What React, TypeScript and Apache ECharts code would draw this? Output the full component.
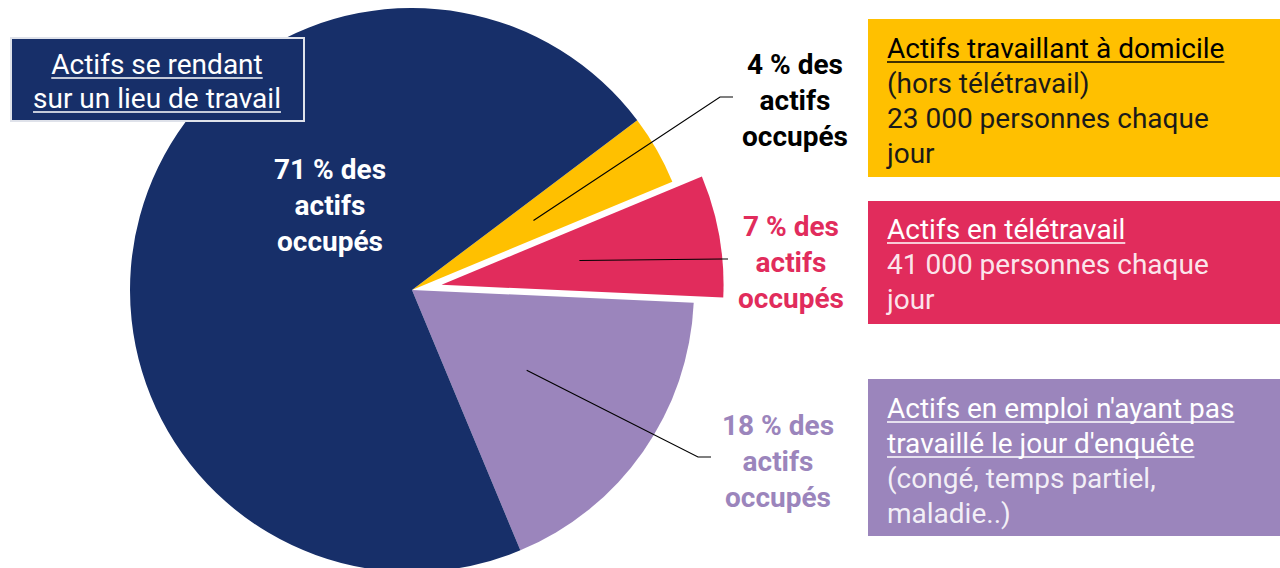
import React, { useEffect, useRef } from 'react';
import * as echarts from 'echarts';

// ---- data ----
const categories = [
  'Actifs travaillant à domicile',
  'Actifs en télétravail',
  "Actifs en emploi n'ayant pas travaillé le jour d'enquête",
  'Actifs se rendant sur un lieu de travail',
];
const shares = [4, 7, 18, 71];
const sliceColors = ['#ffc000', '#e12c5c', '#9b85bc', '#172f69'];
const labelColors = ['#000000', '#e12c5c', '#9b85bc', '#ffffff'];
const explodedIndex = 1;
const labelTexts = shares.map((v) => `${v} % des\nactifs\noccupés`);

const boxTitles = [
  ['Actifs travaillant à domicile'],
  ['Actifs en télétravail'],
  ["Actifs en emploi n'ayant pas", "travaillé le jour d'enquête"],
  ['Actifs se rendant', 'sur un lieu de travail'],
];
const boxSubs = [
  ['(hors télétravail)', '23 000 personnes chaque', 'jour'],
  ['41 000 personnes chaque', 'jour'],
  ['(congé, temps partiel,', 'maladie..)'],
  [],
];

// ---- layout ----
const CENTER = [412, 290];
const RADIUS = 282;
const INNER_R = 140;
const START_ANGLE = 37;
const OFFSET = 30;
const labelPos = [
  [795, 100],
  [791, 262],
  [778, 461],
  [330, 205],
];
const lineEnds: (number[][] | null)[] = [
  [[720, 97], [733, 97]],
  [[722, 259], [728, 259]],
  [[698, 457], [711, 457]],
  null,
];
const FONT = 'Roboto';
const BOX_FS = 28;

const boxLayout = [
  { x: 868, y: 19, w: 412, h: 158, tx: 887, y0: 48, align: 'left', title: '#000000', sub: '#1a1a1a', stroke: null },
  { x: 868, y: 201, w: 412, h: 123, tx: 887, y0: 229, align: 'left', title: '#ffffff', sub: 'rgba(255,255,255,0.9)', stroke: null },
  { x: 868, y: 379, w: 412, h: 157, tx: 887, y0: 408, align: 'left', title: '#ffffff', sub: 'rgba(255,255,255,0.88)', stroke: null },
  { x: 11, y: 38, w: 293, h: 83, tx: 157, y0: 64, align: 'center', title: '#ffffff', sub: '#ffffff', stroke: '#dfe2ea' },
];
const LINE_GAP = 35;

// mid-angle (radians, math convention) of each slice from the data
function midAngles() {
  const total = shares.reduce((a, b) => a + b, 0);
  let acc = 0;
  return shares.map((v) => {
    const mid = START_ANGLE - ((acc + v / 2) / total) * 360;
    acc += v;
    return (mid * Math.PI) / 180;
  });
}

export default function App() {
  const ref = useRef<HTMLDivElement>(null);
  useEffect(() => {
    if (!ref.current) return;
    const chart = echarts.init(ref.current, null, { renderer: 'svg' });
    const ctx = document.createElement('canvas').getContext('2d')!;
    const measure = (t: string) => {
      ctx.font = `normal ${BOX_FS}px ${FONT}`;
      return ctx.measureText(t).width;
    };
    const mids = midAngles();

    const graphics: any[] = [];
    boxLayout.forEach((b, i) => {
      graphics.push({
        type: 'rect',
        z: 100,
        shape: { x: b.x, y: b.y, width: b.w, height: b.h },
        style: {
          fill: sliceColors[i],
          stroke: b.stroke || undefined,
          lineWidth: b.stroke ? 2 : 0,
        },
      });
      const lines = [
        ...boxTitles[i].map((t) => ({ t, title: true })),
        ...boxSubs[i].map((t) => ({ t, title: false })),
      ];
      lines.forEach((ln, k) => {
        const y = b.y0 + k * (i === 3 ? 34 : LINE_GAP);
        graphics.push({
          type: 'text',
          z: 101,
          x: b.tx,
          y,
          style: {
            text: ln.t,
            fill: ln.title ? b.title : b.sub,
            fontSize: BOX_FS,
            fontFamily: FONT,
            fontWeight: 'normal',
            align: b.align,
            verticalAlign: 'middle',
          },
        });
        if (ln.title) {
          const w = measure(ln.t);
          const x1 = b.align === 'center' ? b.tx - w / 2 : b.tx;
          graphics.push({
            type: 'line',
            z: 101,
            shape: { x1, y1: y + 14, x2: x1 + w, y2: y + 14 },
            style: { stroke: b.title, lineWidth: 1.4 },
          });
        }
      });
    });

    chart.setOption({
      animation: false,
      series: [
        {
          type: 'pie',
          center: CENTER,
          radius: RADIUS,
          startAngle: START_ANGLE,
          clockwise: true,
          selectedMode: 'single',
          selectedOffset: OFFSET,
          silent: true,
          avoidLabelOverlap: false,
          label: { show: false },
          labelLine: { show: false },
          emphasis: { disabled: true },
          itemStyle: { borderWidth: 0 },
          data: shares.map((v, i) => ({
            value: v,
            name: categories[i],
            selected: i === explodedIndex,
            itemStyle: { color: sliceColors[i] },
          })),
          z: 2,
        },
        {
          type: 'pie',
          center: CENTER,
          radius: INNER_R,
          startAngle: START_ANGLE,
          clockwise: true,
          selectedMode: false,
          silent: true,
          avoidLabelOverlap: false,
          emphasis: { disabled: true },
          z: 3,
          label: {
            show: true,
            position: 'outside',
            formatter: (p: any) => labelTexts[p.dataIndex],
            fontSize: 28,
            fontWeight: 'bold',
            fontFamily: FONT,
            lineHeight: 36,
            align: 'center',
          },
          labelLine: {
            show: true,
            length: 10,
            length2: 10,
            lineStyle: { color: '#000000', width: 1.2 },
          },
          labelLayout: (params: any) => {
            const i = params.dataIndex;
            const res: any = {
              x: labelPos[i][0],
              y: labelPos[i][1],
              align: 'center',
              verticalAlign: 'middle',
            };
            const ends = lineEnds[i];
            if (ends) {
              const r = INNER_R + (i === explodedIndex ? OFFSET : 0);
              const start = [
                CENTER[0] + r * Math.cos(mids[i]),
                CENTER[1] - r * Math.sin(mids[i]),
              ];
              res.labelLinePoints = [start, ends[0], ends[1]];
            }
            return res;
          },
          data: shares.map((v, i) => ({
            value: v,
            name: categories[i],
            itemStyle: { color: 'rgba(0,0,0,0)' },
            label: { color: labelColors[i] },
            labelLine: { show: lineEnds[i] !== null },
          })),
        },
      ],
      graphic: graphics,
    });
    return () => chart.dispose();
  }, []);
  return (
    <div
      ref={ref}
      style={{ position: 'absolute', left: 0, top: 0, width: 1280, height: 568 }}
    />
  );
}
